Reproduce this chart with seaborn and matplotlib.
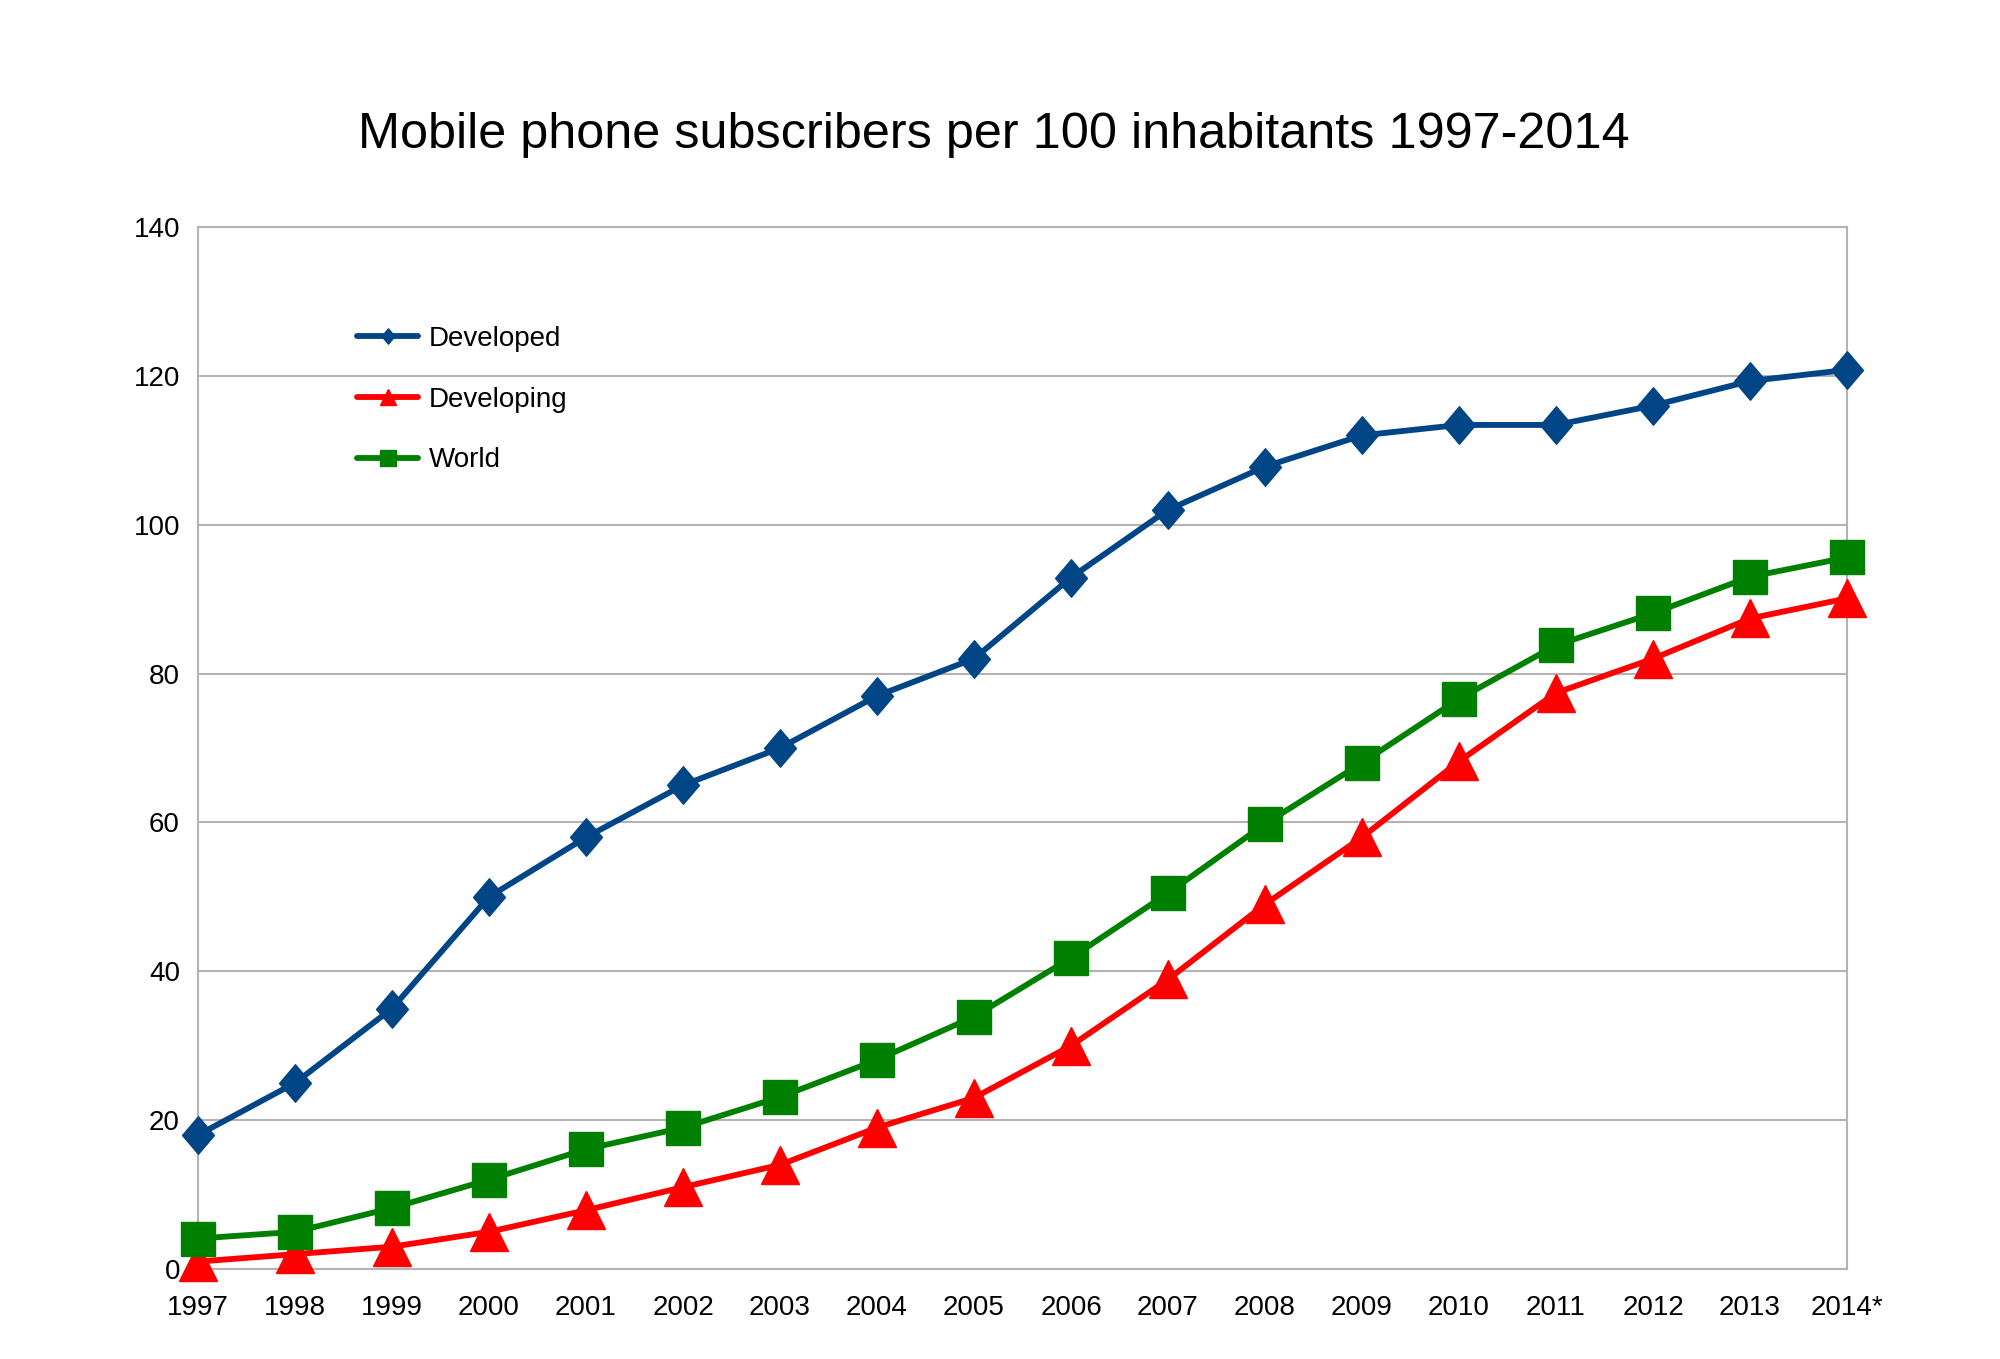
import numpy as np
import pandas as pd
import matplotlib
matplotlib.use("Agg")
import matplotlib.pyplot as plt
from matplotlib.lines import Line2D
from matplotlib.path import Path
import seaborn as sns

years = ["1997", "1998", "1999", "2000", "2001", "2002", "2003", "2004", "2005",
         "2006", "2007", "2008", "2009", "2010", "2011", "2012", "2013", "2014*"]
developed = [18, 25, 35, 50, 58, 65, 70, 77, 82, 92.9, 102, 107.8, 112, 113.4,
             113.4, 116, 119.3, 120.8]
developing = [1, 2, 3, 5, 7.9, 11, 14, 19, 23, 30, 38.9, 49, 58, 68.2, 77.4,
              82, 87.4, 90.1]
world = [4.1, 5, 8.2, 12, 16.1, 19, 23.1, 28.1, 33.9, 41.8, 50.5, 59.8, 68,
         76.6, 83.8, 88.1, 93, 95.6]
series_names = ["Developed", "Developing", "World"]
y_ticks = [0, 20, 40, 60, 80, 100, 120, 140]
title = "Mobile phone subscribers per 100 inhabitants 1997-2014"

sns.set_theme(style="white")
plt.rcParams['font.family'] = ['Liberation Sans', 'DejaVu Sans']
plt.rcParams['text.color'] = 'black'
plt.rcParams['axes.labelcolor'] = 'black'
plt.rcParams['xtick.color'] = 'black'
plt.rcParams['ytick.color'] = 'black'

colors = {"Developed": "#004586", "Developing": "#ff0000", "World": "#008000"}
diamond = Path([(0, 1), (0.85, 0), (0, -1), (-0.85, 0), (0, 1)],
               [Path.MOVETO, Path.LINETO, Path.LINETO, Path.LINETO, Path.CLOSEPOLY])
markers = {"Developed": diamond, "Developing": "^", "World": "s"}
msizes = {"Developed": 27, "Developing": 28, "World": 25}

idx = np.arange(len(years))
df = pd.DataFrame({"idx": np.tile(idx, 3),
                   "value": developed + developing + world,
                   "series": np.repeat(series_names, len(years))})

fig = plt.figure(figsize=(20, 13.59), dpi=100)
ax = fig.add_axes([0.099, 0.0662, 0.8245, 0.7668])

for name in series_names:
    sub = df[df["series"] == name]
    sns.lineplot(data=sub, x="idx", y="value", ax=ax, color=colors[name],
                 marker=markers[name], markersize=msizes[name],
                 markeredgecolor=colors[name], markeredgewidth=1,
                 linewidth=4.2, legend=False, clip_on=False, zorder=3)

ax.set_xlim(0, len(years) - 1)
ax.set_ylim(0, 140)
ax.set_xticks(idx)
ax.set_xticklabels(years, fontsize=20, color="black")
ax.set_yticks(y_ticks)
ax.set_yticklabels([str(t) for t in y_ticks], fontsize=20, color="black")
ax.set_xlabel("")
ax.set_ylabel("")
ax.yaxis.grid(True, color="#b3b3b3", linewidth=1.5)
ax.xaxis.grid(False)
ax.set_axisbelow(True)
for s in ax.spines.values():
    s.set_color("#b3b3b3")
    s.set_linewidth(1.5)
ax.tick_params(axis="both", which="major", direction="out", length=7,
               width=1.5, color="#b3b3b3", labelcolor="black", pad=6)
ax.tick_params(axis="x", pad=12)

handles = [Line2D([0], [0], color=colors[n], linewidth=4.2, marker=markers[n],
                  markersize=11, markeredgecolor=colors[n]) for n in series_names]
leg = ax.legend(handles, series_names, loc="upper left",
                bbox_to_anchor=(0.0964, 0.905), frameon=False, fontsize=20,
                handlelength=2.2, handletextpad=0.4, labelspacing=1.25,
                borderpad=0, borderaxespad=0, labelcolor="black")

fig.suptitle(title, x=0.497, y=0.9005, va="center", fontsize=36.3, color="black")

fig.savefig("out.png", dpi=100, facecolor="white")
